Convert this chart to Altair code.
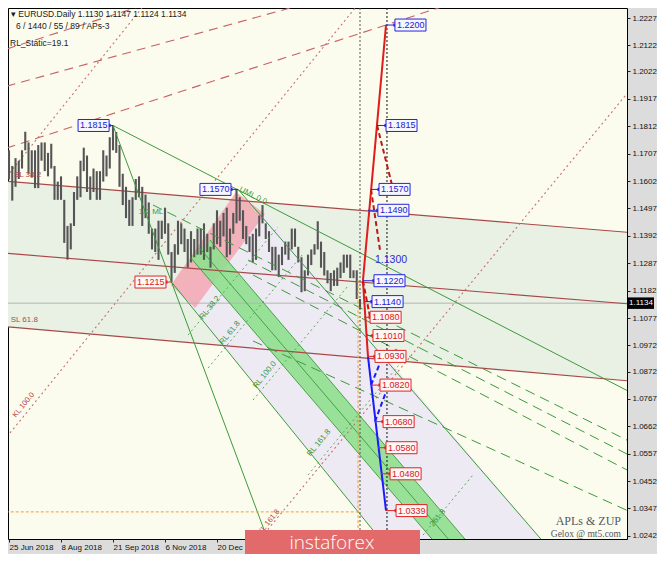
import json
import altair as alt
import pandas as pd

# ---------------- data ----------------
# price bars (two trading days per bar), bar index 0 = 25 Jun 2018
highs = [1.1720, 1.1660, 1.1690, 1.1680, 1.1720, 1.1791, 1.1750, 1.1720, 1.1720, 1.1740,
         1.1750, 1.1750, 1.1710, 1.1745, 1.1660, 1.1600, 1.1620, 1.1530, 1.1430, 1.1440,
         1.1560, 1.1620, 1.1680, 1.1730, 1.1700, 1.1620, 1.1650, 1.1640, 1.1640, 1.1720,
         1.1700, 1.1770, 1.1815, 1.1790, 1.1740, 1.1630, 1.1580, 1.1530, 1.1540, 1.1610,
         1.1620, 1.1580, 1.1550, 1.1520, 1.1420, 1.1420, 1.1450, 1.1450, 1.1500, 1.1440,
         1.1330, 1.1360, 1.1450, 1.1440, 1.1420, 1.1380, 1.1410, 1.1380, 1.1420, 1.1420,
         1.1440, 1.1400, 1.1350, 1.1440, 1.1490, 1.1450, 1.1480, 1.1500, 1.1420, 1.1480,
         1.1570, 1.1540, 1.1490, 1.1430, 1.1390, 1.1400, 1.1420, 1.1470, 1.1510, 1.1440,
         1.1410, 1.1350, 1.1350, 1.1320, 1.1350, 1.1370, 1.1370, 1.1420, 1.1420, 1.1350,
         1.1310, 1.1260, 1.1320, 1.1340, 1.1360, 1.1448, 1.1370, 1.1330, 1.1260, 1.1250,
         1.1260, 1.1270, 1.1290, 1.1320, 1.1320, 1.1320, 1.1260, 1.1260, 1.1150]
lows = [1.1608, 1.1527, 1.1580, 1.1610, 1.1650, 1.1720, 1.1630, 1.1615, 1.1575, 1.1575,
        1.1680, 1.1640, 1.1620, 1.1650, 1.1530, 1.1530, 1.1530, 1.1365, 1.1301, 1.1340,
        1.1430, 1.1530, 1.1540, 1.1640, 1.1560, 1.1530, 1.1560, 1.1530, 1.1530, 1.1600,
        1.1620, 1.1650, 1.1720, 1.1710, 1.1580, 1.1510, 1.1460, 1.1430, 1.1430, 1.1530,
        1.1540, 1.1430, 1.1460, 1.1400, 1.1340, 1.1330, 1.1300, 1.1380, 1.1400, 1.1320,
        1.1215, 1.1250, 1.1320, 1.1360, 1.1330, 1.1270, 1.1290, 1.1310, 1.1320, 1.1320,
        1.1300, 1.1330, 1.1270, 1.1340, 1.1360, 1.1350, 1.1390, 1.1310, 1.1320, 1.1400,
        1.1440, 1.1450, 1.1380, 1.1360, 1.1330, 1.1290, 1.1300, 1.1390, 1.1440, 1.1380,
        1.1330, 1.1260, 1.1260, 1.1234, 1.1280, 1.1320, 1.1300, 1.1340, 1.1350, 1.1290,
        1.1176, 1.1180, 1.1240, 1.1280, 1.1320, 1.1340, 1.1270, 1.1240, 1.1210, 1.1180,
        1.1200, 1.1200, 1.1230, 1.1250, 1.1270, 1.1230, 1.1230, 1.1150, 1.1111]

x_tick_bars = [0, 32, 64, 96, 128]
x_tick_labels = ["25 Jun 2018", "8 Aug 2018", "21 Sep 2018", "6 Nov 2018", "20 Dec 2018"]
y_tick_values = [1.2227, 1.2122, 1.2022, 1.1917, 1.1812, 1.1707, 1.1602, 1.1497, 1.1392,
                 1.1287, 1.1182, 1.1077, 1.0972, 1.0872, 1.0767, 1.0662, 1.0557, 1.0452,
                 1.0347, 1.0242]
last_price = 1.1134

# trend lines (bar index, price) -> (bar index, price)
sl_lines = [(-1.5, 1.16010, 382.15, 1.14048),
            (-1.5, 1.13250, 382.15, 1.11308),
            (-1.5, 1.10435, 382.15, 1.08357)]
red_long_dash = [(-1.5, 1.17285, 279.4, 1.22960),
                 (-1.5, 1.21080, 92.9, 1.22960),
                 (-1.5, 1.19655, 190.8, 1.22960)]
red_dotted = [(0.62, 1.06363, 213.5, 1.22692),
              (151.4, 1.02071, 382.15, 1.19510),
              (-1.5, 1.16185, 82.2, 1.22692)]
green_solid = [(64.0, 1.1815, 382.15, 1.07935),
               (64.0, 1.1815, 160.0, 1.0215),
               (141.0, 1.1570, 330.5, 1.02071),
               (100.0, 1.1215, 231.4, 1.02071)]
green_dash = [(88.6, 1.15102, 383.9, 1.05980),
              (147.1, 1.12994, 383.9, 1.05444),
              (150.2, 1.12419, 383.9, 1.04830),
              (150.2, 1.09890, 383.9, 1.03297)]
green_fine = [(110.2, 1.10120, 165.5, 1.14259),
              (122.5, 1.08855, 180.9, 1.13224),
              (150.2, 1.07628, 208.6, 1.11998),
              (184.0, 1.04754, 242.5, 1.09161),
              (254.8, 1.02454, 285.5, 1.04754)]
band_edges = [(123.7, 1.13761, 283.7, 1.02071),
              (111.4, 1.13109, 263.4, 1.02071),
              (117.5, 1.13435, 273.5, 1.02071)]

zone_poly = [(-1.5, 1.16010), (382.15, 1.14048), (382.15, 1.08357), (-1.5, 1.10435)]
lavender_poly = [(104.0, 1.11845), (157.5, 1.14758), (330.5, 1.02071), (231.4, 1.02071)]
pink_poly = [(99.7, 1.12036), (139.7, 1.15601), (157.5, 1.14758), (114.5, 1.11155)]
band_poly = [(123.7, 1.13761), (283.7, 1.02071), (263.4, 1.02071), (111.4, 1.13109)]

# ZUP projection path
red_path = [(217.8, 1.1220, 232.0, 1.2200), (217.8, 1.1220, 220.9, 1.0930)]
red_path_dash = [(226.5, 1.1815, 235.7, 1.15869), (222.8, 1.1570, 228.3, 1.13378),
                 (217.8, 1.1220, 222.2, 1.1080)]
blue_path = [(220.9, 1.0930, 232.0, 1.0339)]
blue_path_dash = [(222.8, 1.0820, 228.3, 1.09046), (225.2, 1.0680, 232.0, 1.07935)]

blue_labels = ["1.2200", "1.1815", "1.1570", "1.1490", "1.1220", "1.1140", "1.1815", "1.1570"]
blue_prices = [1.2200, 1.1815, 1.1570, 1.1490, 1.1220, 1.1140, 1.1815, 1.1570]
blue_pt_bar = [232.0, 226.5, 222.8, 221.0, 217.8, 219.0, 64.0, 141.0]
blue_box_bar = [237.5, 232.0, 227.7, 227.0, 224.6, 223.4, 42.5, 117.5]

red_labels = ["1.1080", "1.1010", "1.0930", "1.0820", "1.0680", "1.0580", "1.0480", "1.0339", "1.1215"]
red_prices = [1.1080, 1.1010, 1.0930, 1.0820, 1.0680, 1.0580, 1.0480, 1.0339, 1.1215]
red_pt_bar = [218.5, 220.3, 220.9, 222.8, 225.2, 227.1, 228.9, 232.0, 100.0]
red_box_bar = [222.2, 224.0, 225.2, 228.3, 230.2, 232.0, 234.5, 238.2, 77.5]

red_notes = ["SL 38.2", "SL 61.8"]
red_note_bar = [3.0, 1.0]
red_note_price = [1.16252, 1.10695]
red_rot_notes = ["KL 100.0", "KL 161.8"]
red_rot_bar = [9.0, 160.0]
red_rot_price = [1.07437, 1.02952]

green_notes = ["1/2 ML", "UML 0.0", "RL 38.2", "RL 61.8", "RL 100.0", "RL 161.8", "261.8"]
green_note_bar = [87.4, 150.2, 123.7, 136.0, 157.5, 190.8, 264.0]
green_note_price = [1.14834, 1.15447, 1.11155, 1.10196, 1.08587, 1.05980, 1.03105]
green_note_angle = [0, 27, 309, 309, 309, 309, 309]

# ---------------- chart ----------------
W, H = 619, 531
FONT = "Liberation Sans"
xs = alt.Scale(domain=[-0.62, 380.31], nice=False, zero=False)
ys = alt.Scale(domain=[1.023009, 1.226533], nice=False, zero=False)


def X(f, axis=None):
    return alt.X(f, type="quantitative", scale=xs, axis=axis)


def Y(f, axis=None):
    return alt.Y(f, type="quantitative", scale=ys, axis=axis)


def poly_df(verts):
    rows = []
    n = len(verts)
    for x in sorted(set(v[0] for v in verts)):
        vals = []
        for i in range(n):
            x1, y1 = verts[i]
            x2, y2 = verts[(i + 1) % n]
            if min(x1, x2) - 1e-9 <= x <= max(x1, x2) + 1e-9:
                if abs(x2 - x1) < 1e-9:
                    vals += [y1, y2]
                else:
                    vals.append(y1 + (y2 - y1) * (x - x1) / (x2 - x1))
        rows.append({"x": x, "top": max(vals), "bot": min(vals)})
    return pd.DataFrame(rows)


def area(verts, color, opacity=1.0):
    return alt.Chart(poly_df(verts)).mark_area(color=color, opacity=opacity, clip=True).encode(
        x=X("x"), y=Y("top"), y2="bot")


def segs(lines, color, width=1.0, dash=None, opacity=1.0):
    df = pd.DataFrame(lines, columns=["x1", "y1", "x2", "y2"])
    kw = dict(color=color, strokeWidth=width, opacity=opacity, clip=True)
    if dash:
        kw["strokeDash"] = dash
    return alt.Chart(df).mark_rule(**kw).encode(x=X("x1"), y=Y("y1"), x2="x2", y2="y2")


def notes(texts, bars, prices, angles, color, size, align="center"):
    df = pd.DataFrame({"t": texts, "x": bars, "y": prices, "a": angles})
    return alt.Chart(df).mark_text(color=color, fontSize=size, font=FONT, align=align,
                                   baseline="middle").encode(
        x=X("x"), y=Y("y"), text="t", angle=alt.Angle("a:Q", scale=None))


def boxes(labels, prices, pts, bxs, edge, fill, txt):
    bw = 19.1
    rows = []
    for l, p, pt, bx in zip(labels, prices, pts, bxs):
        if bx >= pt:
            c1, c2, sq = pt, bx, bx
        else:
            c1, c2, sq = bx + bw, pt, bx + bw
        rows.append({"l": l, "p": p, "bx": bx, "bx2": bx + bw, "hi": p + 0.0023,
                     "lo": p - 0.0023, "c1": c1, "c2": c2, "sq": sq})
    df = pd.DataFrame(rows)
    base = alt.Chart(df)
    return [
        base.mark_rule(color=edge, strokeWidth=1).encode(x=X("c1"), x2="c2", y=Y("p")),
        base.mark_square(color=edge, size=10, opacity=1).encode(x=X("sq"), y=Y("p")),
        base.mark_rect(fill=fill, stroke=edge, strokeWidth=1).encode(
            x=X("bx"), x2="bx2", y=Y("hi"), y2="lo"),
        base.mark_text(color=txt, font=FONT, fontSize=9, align="left", baseline="middle", dx=2).encode(
            x=X("bx"), y=Y("p"), text="l"),
    ]


one = pd.DataFrame({"a": [0]})
label_map = json.dumps({str(b): s for b, s in zip(x_tick_bars, x_tick_labels)})

x_axis = alt.Axis(orient="bottom", values=x_tick_bars, labelExpr=f"{label_map}[datum.value]",
                  labelAlign="left", labelFont=FONT, labelFontSize=8, labelColor="#111111",
                  tickColor="#222222", tickSize=3, labelPadding=1, domain=False, grid=False,
                  labelFlush=False, labelOverlap=False, title=None)
y_axis = alt.Axis(orient="right", values=y_tick_values, format=".4f", labelFont=FONT,
                  labelFontSize=8, labelColor="#111111", tickColor="#222222", tickSize=3,
                  labelPadding=2, domain=False, grid=False, labelOverlap=False, title=None)

candles = pd.DataFrame({"bar": [2 * i for i in range(len(highs))], "hi": highs, "lo": lows})
candle_layer = alt.Chart(candles).mark_rule(color="#555555", strokeWidth=2.1, clip=True).encode(
    x=X("bar", x_axis), y=Y("hi", y_axis), y2="lo")

price_line = alt.Chart(pd.DataFrame({"p": [last_price]})).mark_rule(
    color="#b4b4b4", strokeWidth=1, clip=True).encode(y=Y("p"))

vert = pd.DataFrame({"x": [216.0], "x2": [232.6]})
vlines = [
    alt.Chart(vert).mark_rule(color="#555555", strokeDash=[2, 2], strokeWidth=1, clip=True).encode(x=X("x")),
    alt.Chart(vert).mark_rule(color="#111111", strokeDash=[2, 2], strokeWidth=1, clip=True).encode(x=X("x2")),
]
orange = segs([(214.8, 1.1222, 214.8, 1.0200), (-2.0, 1.0334, 214.8, 1.0334)], "#f0a030", 1, [3, 2])

price_tag = alt.Chart(pd.DataFrame({"p": [last_price], "hi": [last_price + 0.0022],
                                    "lo": [last_price - 0.0022], "t": ["1.1134"]}))
price_tag_layers = [
    price_tag.mark_rect(color="#000000").encode(x=alt.value(W), x2=alt.value(W + 27), y=Y("hi"), y2="lo"),
    price_tag.mark_text(color="#ffffff", font=FONT, fontSize=8, align="left", baseline="middle").encode(
        x=alt.value(W + 2), y=Y("p"), text="t"),
]

banner = [
    alt.Chart(one).mark_rect(color="#e26a6a").encode(
        x=alt.value(237), x2=alt.value(412), y=alt.value(H - 9), y2=alt.value(H + 15)),
    alt.Chart(pd.DataFrame({"t": ["instaforex"]})).mark_text(
        color="#ffffff", font="Open Sans", fontSize=19, fontWeight=300, align="center",
        baseline="middle").encode(x=alt.value(324), y=alt.value(H + 4), text="t"),
]

header = pd.DataFrame({
    "t": ["▾ EURUSD.Daily  1.1130 1.1147 1.1124 1.1134", "6 / 1440 / 55 / 89 / APs-3", "RL_Static=19.1"]})
header_layers = [
    alt.Chart(header.iloc[[0]]).mark_text(font=FONT, fontSize=8.5, align="left", baseline="middle",
                                         color="#1a1a1a").encode(x=alt.value(3), y=alt.value(6), text="t"),
    alt.Chart(header.iloc[[1]]).mark_text(font=FONT, fontSize=8.5, align="left", baseline="middle",
                                         color="#1a1a1a").encode(x=alt.value(8), y=alt.value(18), text="t"),
    alt.Chart(header.iloc[[2]]).mark_text(font=FONT, fontSize=8.5, align="left", baseline="middle",
                                         color="#1a1a1a").encode(x=alt.value(2), y=alt.value(35), text="t"),
]
credits = [
    alt.Chart(pd.DataFrame({"t": ["APLs & ZUP"]})).mark_text(
        font="Liberation Serif", fontSize=12, align="right", baseline="middle", color="#505868").encode(
        x=alt.value(613), y=alt.value(513), text="t"),
    alt.Chart(pd.DataFrame({"t": ["Gelox @ mt5.com"]})).mark_text(
        font="Liberation Serif", fontSize=9.5, align="right", baseline="middle", color="#505868").encode(
        x=alt.value(613), y=alt.value(526), text="t"),
]

layers = [
    area(zone_poly, "#e9f0e4"),
    area(lavender_poly, "#eeeaf3"),
    area(pink_poly, "#f2a7b3", 0.85),
    area(band_poly, "#8fe08f", 0.9),
    price_line,
    segs(sl_lines, "#a84848", 1.2),
    segs(red_long_dash, "#c86262", 1.1, [9, 6]),
    segs(red_dotted, "#c87070", 1.1, [2, 3]),
    candle_layer,
    segs(green_solid, "#3c9a3c", 1),
    segs(green_dash, "#3c9a3c", 1, [10, 6]),
    segs(green_fine, "#5aaa5a", 1, [2, 3]),
    segs(band_edges, "#3c9a3c", 0.9),
    *vlines,
    orange,
    notes(red_notes, red_note_bar, red_note_price, [0, 0], "#b04848", 8, "left"),
    notes(red_rot_notes, red_rot_bar, red_rot_price, [309, 309], "#b04848", 7.5),
    notes(green_notes, green_note_bar, green_note_price, green_note_angle, "#3c9a3c", 8),
    segs(red_path, "#e01c1c", 2),
    segs(red_path_dash, "#c01818", 2, [5, 3]),
    segs(blue_path, "#1a1aff", 2),
    segs(blue_path_dash, "#1a1aff", 2, [5, 3]),
    *boxes(blue_labels, blue_prices, blue_pt_bar, blue_box_bar, "#2424e0", "#f6f6ff", "#2020d0"),
    *boxes(red_labels, red_prices, red_pt_bar, red_box_bar, "#e02424", "#fff6f6", "#d81818"),
    alt.Chart(pd.DataFrame({"t": ["1.1300"], "x": [225.2], "p": [1.1300]})).mark_text(
        color="#2a2ad8", font=FONT, fontSize=10.5, align="left", baseline="middle").encode(
        x=X("x"), y=Y("p"), text="t"),
    *price_tag_layers,
    *header_layers,
    *credits,
    *banner,
]

chart = alt.layer(*layers).resolve_axis(x="independent", y="independent").properties(
    width=W, height=H,
    padding={"left": 0, "top": 0, "right": 30, "bottom": 15},
    autosize=alt.AutoSizeParams(type="none"),
    background="#dcdcdc",
).configure_view(fill="#fcfcee", stroke="#000000", strokeWidth=1)

chart.save("out.html", embed_options={"renderer": "svg", "actions": False})
